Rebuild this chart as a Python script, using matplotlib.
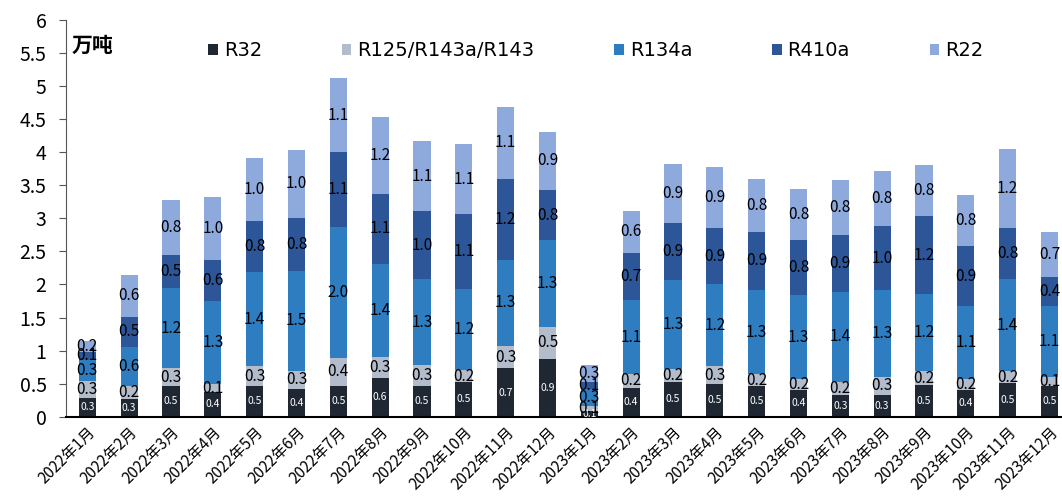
import matplotlib.pyplot as plt
import numpy as np

plt.rcParams['font.family'] = ['Noto Sans CJK SC', 'DejaVu Sans']

# 月份
months = ['2022年%d月' % m for m in range(1, 13)] + ['2023年%d月' % m for m in range(1, 13)]

# 各制冷剂产量(万吨)
r32 = [0.28, 0.27, 0.46, 0.37, 0.47, 0.42, 0.47, 0.59, 0.46, 0.52, 0.73, 0.87,
       0.08, 0.44, 0.52, 0.50, 0.46, 0.40, 0.33, 0.33, 0.48, 0.41, 0.51, 0.46]
r125 = [0.26, 0.20, 0.28, 0.12, 0.29, 0.27, 0.42, 0.32, 0.32, 0.19, 0.34, 0.49,
        0.08, 0.21, 0.20, 0.26, 0.18, 0.17, 0.20, 0.27, 0.21, 0.16, 0.18, 0.14]
r134a = [0.32, 0.59, 1.20, 1.26, 1.43, 1.52, 1.98, 1.40, 1.30, 1.22, 1.30, 1.31,
         0.26, 1.11, 1.34, 1.24, 1.28, 1.27, 1.36, 1.32, 1.16, 1.10, 1.39, 1.08]
r410a = [0.12, 0.45, 0.51, 0.62, 0.77, 0.80, 1.13, 1.06, 1.03, 1.13, 1.23, 0.76,
         0.10, 0.72, 0.87, 0.86, 0.88, 0.83, 0.86, 0.96, 1.19, 0.91, 0.78, 0.44]
r22 = [0.16, 0.64, 0.82, 0.96, 0.96, 1.02, 1.12, 1.17, 1.06, 1.06, 1.08, 0.88,
       0.26, 0.63, 0.89, 0.91, 0.80, 0.78, 0.83, 0.84, 0.76, 0.78, 1.19, 0.68]

series = [
    ('R32', r32, '#1f2733', 'white', 7.5),
    ('R125/R143a/R143', r125, '#b3bccb', 'black', 11),
    ('R134a', r134a, '#2e7dc0', 'black', 11),
    ('R410a', r410a, '#2d5699', 'black', 11),
    ('R22', r22, '#8eaadc', 'black', 11),
]

fig = plt.figure(figsize=(10.62, 4.98), dpi=100)
ax = fig.add_axes([0.0621, 0.1633, 0.9379, 0.7965])

x = np.arange(len(months))
bottom = np.zeros(len(months))
for name, vals, col, tcol, fs in series:
    vals = np.array(vals)
    ax.bar(x, vals, 0.41, bottom=bottom, color=col, label=name, zorder=2)
    for i in range(len(x)):
        ax.text(x[i], bottom[i] + vals[i] / 2, '%.1f' % vals[i], ha='center', va='center',
                color=tcol, fontsize=fs, zorder=3)
    bottom = bottom + vals

ax.set_xlim(-0.51, 23.3)
ax.set_ylim(0, 6)
ax.set_yticks(np.arange(0, 6.01, 0.5))
ax.set_yticklabels(['0', '0.5', '1', '1.5', '2', '2.5', '3', '3.5', '4', '4.5', '5', '5.5', '6'])
ax.tick_params(axis='y', labelsize=14, length=5, color='#555555', pad=9)
ax.set_xticks(x)
ax.set_xticklabels(months, rotation=45, ha='right', rotation_mode='anchor', fontsize=11)
ax.tick_params(axis='x', length=0, pad=5)

ax.spines['top'].set_visible(False)
ax.spines['right'].set_visible(False)
ax.spines['left'].set_color('#555555')
ax.spines['bottom'].set_color('black')
ax.spines['bottom'].set_linewidth(1.5)

ax.text(0.006, 0.935, '万吨', transform=ax.transAxes, fontsize=15, fontweight='bold',
        ha='left', va='center')
leg = ax.legend(loc='center left', bbox_to_anchor=(0.135, 0.922), ncol=5, frameon=False,
                prop={'family': 'DejaVu Sans', 'size': 14},
                handlelength=0.5, handleheight=0.5, handletextpad=0.3,
                columnspacing=4.1, borderaxespad=0)

fig.savefig('out.png', dpi=100)
